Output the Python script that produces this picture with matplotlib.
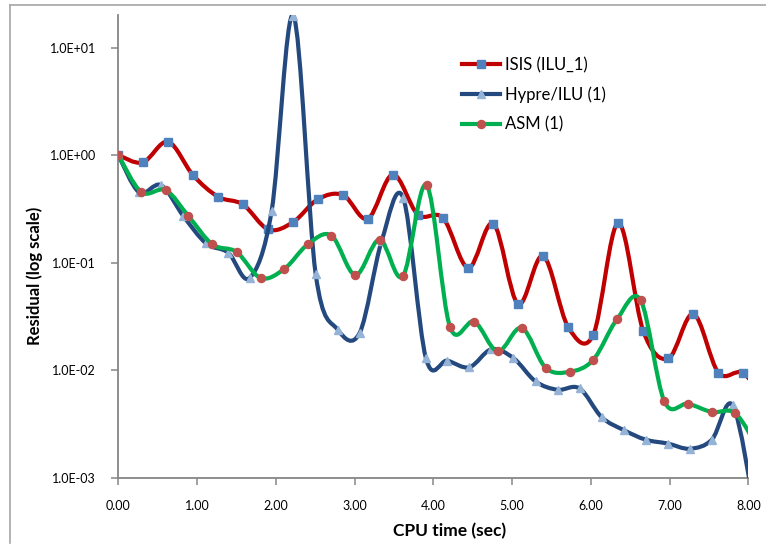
import numpy as np
import matplotlib
matplotlib.use("Agg")
import matplotlib.pyplot as plt
from matplotlib.path import Path
from matplotlib.patches import PathPatch
from matplotlib.lines import Line2D
from matplotlib.ticker import FixedLocator, FixedFormatter, NullLocator

# CPU time (sec) and residual for each solver
isis_t = [0.0, 0.31, 0.632, 0.95, 1.268, 1.582, 1.905, 2.218, 2.536, 2.855, 3.168,
          3.486, 3.804, 4.125, 4.445, 4.763, 5.076, 5.394, 5.712, 6.03, 6.349,
          6.667, 6.985, 7.303, 7.621, 7.939, 8.257]
isis_r = [1.0, 0.855, 1.33, 0.65, 0.41, 0.348, 0.204, 0.238, 0.39, 0.425, 0.256,
          0.66, 0.28, 0.26, 0.0895, 0.231, 0.0414, 0.1157, 0.0253, 0.0213, 0.234,
          0.0231, 0.0129, 0.0334, 0.0095, 0.0094, 0.0045]

hypre_t = [0.0, 0.265, 0.543, 0.827, 1.116, 1.396, 1.667, 1.947, 2.223, 2.507,
           2.786, 3.066, 3.345, 3.618, 3.906, 4.178, 4.458, 4.738, 5.018, 5.298,
           5.578, 5.857, 6.137, 6.417, 6.697, 6.977, 7.257, 7.537, 7.804, 8.084]
hypre_r = [1.0, 0.45, 0.526, 0.271, 0.151, 0.124, 0.0722, 0.303, 19.8, 0.078,
           0.0239, 0.0224, 0.16, 0.40, 0.013, 0.0123, 0.0107, 0.0157, 0.0130, 0.0079,
           0.0066, 0.0068, 0.00368, 0.00279, 0.00227, 0.00209, 0.00187, 0.00227,
           0.00472, 0.0005]

asm_t = [0.0, 0.293, 0.603, 0.891, 1.196, 1.501, 1.807, 2.108, 2.405, 2.706, 3.011,
         3.317, 3.613, 3.915, 4.211, 4.521, 4.818, 5.123, 5.425, 5.73, 6.03, 6.332,
         6.633, 6.934, 7.235, 7.537, 7.837, 8.138]
asm_r = [1.0, 0.453, 0.472, 0.271, 0.148, 0.126, 0.0722, 0.0876, 0.148, 0.179, 0.077,
         0.164, 0.0749, 0.526, 0.0255, 0.0284, 0.0150, 0.0248, 0.0106, 0.0097, 0.0125,
         0.0298, 0.0448, 0.00515, 0.0049, 0.0041, 0.00398, 0.0018]

series_names = ["ISIS (ILU_1)", "Hypre/ILU (1)", "ASM (1)"]

x_ticks = [0, 1, 2, 3, 4, 5, 6, 7, 8]
x_tick_labels = ["0.00", "1.00", "2.00", "3.00", "4.00", "5.00", "6.00", "7.00", "8.00"]
y_ticks = [1e-3, 1e-2, 1e-1, 1e0, 1e1]
y_tick_labels = ["1.0E-03", "1.0E-02", "1.0E-01", "1.0E+00", "1.0E+01"]

FONT = ["Lato", "DejaVu Sans"]
plt.rcParams["font.family"] = FONT

W, H = 766, 545
fig = plt.figure(figsize=(W / 100, H / 100), dpi=100)
ax = fig.add_axes([118.3 / W, (H - 478) / H, 630 / W, 463 / H])


def smooth_path(x, y):
    """Cubic Bezier through the points (Catmull-Rom tangents in log space)."""
    pts = np.column_stack([np.asarray(x, float), np.log10(np.asarray(y, float))])
    n = len(pts)
    verts = [pts[0]]
    codes = [Path.MOVETO]
    for i in range(n - 1):
        p0 = pts[i - 1] if i > 0 else pts[i]
        p1, p2 = pts[i], pts[i + 1]
        p3 = pts[i + 2] if i + 2 < n else pts[i + 1]
        verts += [p1 + (p2 - p0) / 6.0, p2 - (p3 - p1) / 6.0, p2]
        codes += [Path.CURVE4] * 3
    verts = np.array(verts)
    verts[:, 1] = 10.0 ** verts[:, 1]
    return Path(verts, codes)


styles = [
    (isis_t, isis_r, "#C00000", "s", "#4F81BD", 5.2),
    (hypre_t, hypre_r, "#24497E", "^", "#95B3D7", 5.8),
    (asm_t, asm_r, "#00B050", "o", "#C0504D", 5.8),
]

handles = []
for k, (t, r, lc, mk, mc, ms) in enumerate(styles):
    z = 3 + k
    patch = PathPatch(smooth_path(t, r), fill=False, edgecolor=lc, lw=3.0,
                      capstyle="round", joinstyle="round", zorder=z)
    ax.add_patch(patch)
    ax.plot(t, r, linestyle="none", marker=mk, ms=ms, mfc=mc, mec=mc, zorder=z + 0.5)
    handles.append(Line2D([], [], color=lc, lw=3.0, marker=mk, ms=ms, mfc=mc, mec=mc))

ax.set_yscale("log")
ax.set_xlim(0, 8)
ax.set_ylim(1e-3, 10 ** 1.302)

ax.xaxis.set_major_locator(FixedLocator(x_ticks))
ax.xaxis.set_major_formatter(FixedFormatter(x_tick_labels))
ax.yaxis.set_major_locator(FixedLocator(y_ticks))
ax.yaxis.set_major_formatter(FixedFormatter(y_tick_labels))
ax.yaxis.set_minor_locator(NullLocator())
ax.xaxis.set_minor_locator(NullLocator())

for side in ("top", "right"):
    ax.spines[side].set_visible(False)
for side in ("left", "bottom"):
    ax.spines[side].set_color("#868686")
    ax.spines[side].set_linewidth(1.3)

ax.tick_params(axis="both", direction="out", length=5, width=1.1, color="#868686",
               labelsize=9, labelcolor="#000000")
ax.tick_params(axis="y", pad=11)
ax.tick_params(axis="x", pad=11)

fig.text(35 / W, 1 - 276 / H, "Residual (log scale)", rotation=90, ha="center",
         va="center", fontsize=12, fontweight="bold")
fig.text(450 / W, 1 - 531 / H, "CPU time (sec)", ha="center", va="center",
         fontsize=12.5, fontweight="bold")

ax.legend(handles, series_names, loc="upper left",
          bbox_to_anchor=(462 / W, 1 - 57 / H), bbox_transform=fig.transFigure,
          frameon=False, borderpad=0, borderaxespad=0, handlelength=2.3,
          handletextpad=0.3, labelspacing=0.8, fontsize=12)

# chart area frame (left and top edges)
fig.add_artist(Line2D([10 / W, 10 / W], [1 - 543 / H, 1 - 5 / H], color="#A6A6A6",
                      lw=1.2, transform=fig.transFigure))
fig.add_artist(Line2D([10 / W, 1.0], [1 - 5 / H, 1 - 5 / H], color="#A6A6A6",
                      lw=1.2, transform=fig.transFigure))

fig.savefig("out.png", dpi=100)
